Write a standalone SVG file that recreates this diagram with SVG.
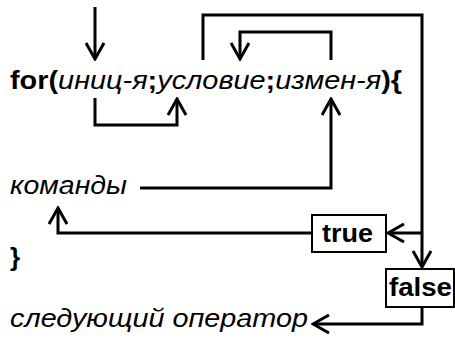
<svg xmlns="http://www.w3.org/2000/svg" width="455" height="341" viewBox="0 0 455 341">
<defs>
<marker id="ah" viewBox="0 0 20 20" refX="18" refY="10" markerWidth="20" markerHeight="20" markerUnits="userSpaceOnUse" orient="auto">
<path d="M2,1 L18,10 L2,19" fill="none" stroke="#000" stroke-width="3"/>
</marker>
<style>
.t{font-family:"Liberation Sans",Arial,sans-serif;fill:#000;font-size:26px}
.b{font-weight:bold}
.i{font-style:italic}
.c{fill:none;stroke:#000;stroke-width:3}
.box{fill:#fff;stroke:#000;stroke-width:2}
</style>
</defs>
<g id="connectors">
<path class="c" d="M95,7 V59" marker-end="url(#ah)"/>
<path class="c" d="M95,98 V125 H177 V99" marker-end="url(#ah)"/>
<path class="c" d="M203,60 V15 H422 V267" marker-end="url(#ah)"/>
<path class="c" d="M331,60 V32 H240 V59" marker-end="url(#ah)"/>
<path class="c" d="M140,188 H331 V99" marker-end="url(#ah)"/>
<path class="c" d="M422,233 H388" marker-end="url(#ah)"/>
<path class="c" d="M313,233 H58 V208" marker-end="url(#ah)"/>
<path class="c" d="M422,307 V324 H313" marker-end="url(#ah)"/>
</g>
<g id="for-line">
<text class="t" x="10" y="89" textLength="392" lengthAdjust="spacingAndGlyphs"><tspan class="b">for(</tspan><tspan class="i">иниц-я</tspan><tspan class="b">;</tspan><tspan class="i">условие</tspan><tspan class="b">;</tspan><tspan class="i">измен-я</tspan><tspan class="b">){</tspan></text>
</g>
<g id="commands">
<text class="t i" x="10" y="194" textLength="117" lengthAdjust="spacingAndGlyphs">команды</text>
</g>
<g id="close-brace">
<text class="t b" x="10" y="266">}</text>
</g>
<g id="true">
<rect class="box" x="312" y="215" width="74" height="37"/>
<text class="t b" x="322" y="242" textLength="51" lengthAdjust="spacingAndGlyphs">true</text>
</g>
<g id="false">
<rect class="box" x="386" y="269" width="68" height="38"/>
<text class="t b" x="389" y="296" textLength="63" lengthAdjust="spacingAndGlyphs">false</text>
</g>
<g id="next">
<text class="t i" x="10" y="327" textLength="298" lengthAdjust="spacingAndGlyphs">следующий оператор</text>
</g>
</svg>
